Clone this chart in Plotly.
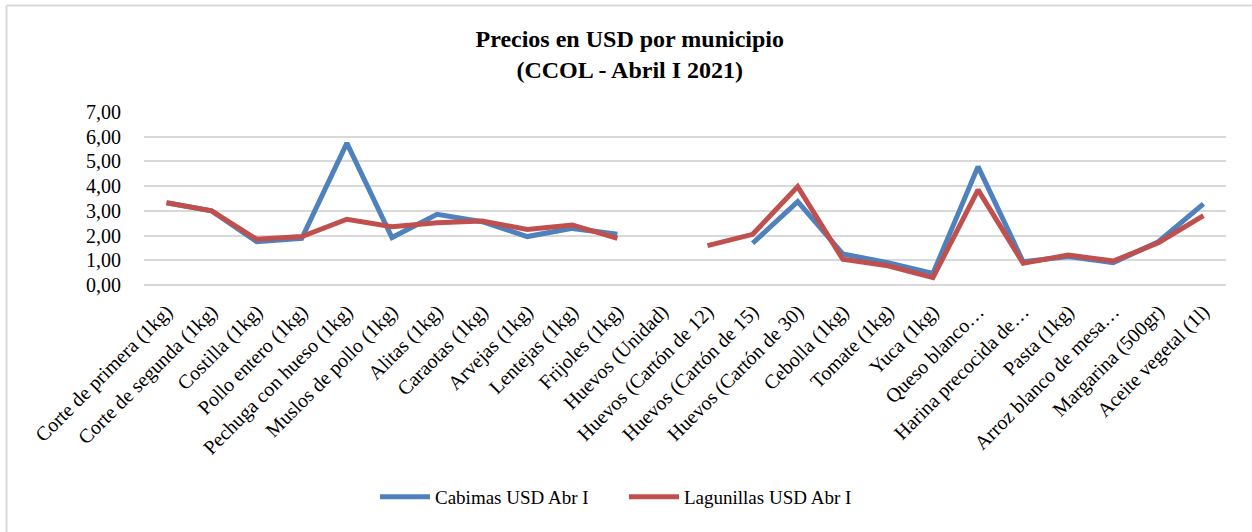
import plotly.graph_objects as go

categories = [
    "Corte de primera (1kg)", "Corte de segunda (1kg)", "Costilla (1kg)", "Pollo entero (1kg)",
    "Pechuga con hueso (1kg)", "Muslos de pollo (1kg)", "Alitas (1kg)", "Caraotas (1kg)",
    "Arvejas (1kg)", "Lentejas (1kg)", "Frijoles (1kg)", "Huevos (Unidad)",
    "Huevos (Cartón de 12)", "Huevos (Cartón de 15)", "Huevos (Cartón de 30)", "Cebolla (1kg)",
    "Tomate (1kg)", "Yuca (1kg)", "Queso blanco…", "Harina precocida de…",
    "Pasta (1kg)", "Arroz blanco de mesa…", "Margarina (500gr)", "Aceite vegetal (1l)",
]
cabimas = [3.33, 3.00, 1.75, 1.89, 5.74, 1.92, 2.86, 2.56, 1.96, 2.29, 2.05, None,
           None, 1.69, 3.37, 1.26, 0.90, 0.47, 4.79, 0.94, 1.15, 0.90, 1.75, 3.28]
lagunillas = [3.33, 3.00, 1.85, 1.96, 2.66, 2.36, 2.52, 2.59, 2.25, 2.43, 1.89, None,
              1.59, 2.05, 3.98, 1.04, 0.78, 0.30, 3.85, 0.88, 1.21, 0.97, 1.71, 2.81]
y_ticks = [0, 1, 2, 3, 4, 5, 6, 7]

FONT = "Liberation Serif"
W, H = 1252, 532
L, R, T, B = 144, 26, 112, 247

fig = go.Figure()
fig.add_trace(go.Scatter(x=categories, y=cabimas, mode="lines", name="Cabimas USD Abr I",
                         line=dict(color="#4F81BD", width=5)))
fig.add_trace(go.Scatter(x=categories, y=lagunillas, mode="lines", name="Lagunillas USD Abr I",
                         line=dict(color="#C0504D", width=5)))

pw = W - L - R
ph = H - T - B
# outer chart-area border (only left and top edges visible in the reference)
bx = (6.5 - L) / pw
by = 1 + (T - 5.5) / ph
fig.add_shape(type="line", xref="paper", yref="paper", x0=bx, x1=(W - L) / pw + 0.01,
              y0=by, y1=by, line=dict(color="#D9D9D9", width=2), layer="below")
fig.add_shape(type="line", xref="paper", yref="paper", x0=bx, x1=bx,
              y0=by, y1=-(B + 2) / ph, line=dict(color="#D9D9D9", width=2), layer="below")

fig.update_layout(
    width=W, height=H,
    margin=dict(l=L, r=R, t=T, b=B, autoexpand=False),
    paper_bgcolor="white", plot_bgcolor="white",
    separators=", ",
    font=dict(family=FONT, color="#000000", size=20),
    title=dict(text="<b>Precios en USD por municipio<br>(CCOL - Abril I 2021)</b>",
               x=0.503, xref="container", xanchor="center",
               y=1 - 47 / H, yref="container", yanchor="top",
               font=dict(family=FONT, size=24, color="#000000")),
    showlegend=True,
    legend=dict(orientation="h", xref="container", yref="container",
                x=0.4984, xanchor="center", y=1 - 497 / H, yanchor="middle",
                font=dict(family=FONT, size=19), itemwidth=50,
                entrywidth=184, entrywidthmode="pixels", bgcolor="rgba(0,0,0,0)"),
    xaxis=dict(tickangle=-45, showgrid=False, showline=False, ticks="", automargin=False,
               tickfont=dict(family=FONT, size=20), range=[-0.5, len(categories) - 0.5],
               ticklabelstandoff=10),
    yaxis=dict(range=[0, 7], tickvals=y_ticks, tickformat=".2f", showgrid=True, automargin=False,
               gridcolor="#D9D9D9", gridwidth=1.5, zeroline=True, zerolinecolor="#D9D9D9",
               zerolinewidth=1.5, showline=False, ticks="",
               tickfont=dict(family=FONT, size=20), ticklabelstandoff=22),
)

fig.write_html("out.html", config={"displayModeBar": False},
               post_script="document.body.style.margin='0';")
